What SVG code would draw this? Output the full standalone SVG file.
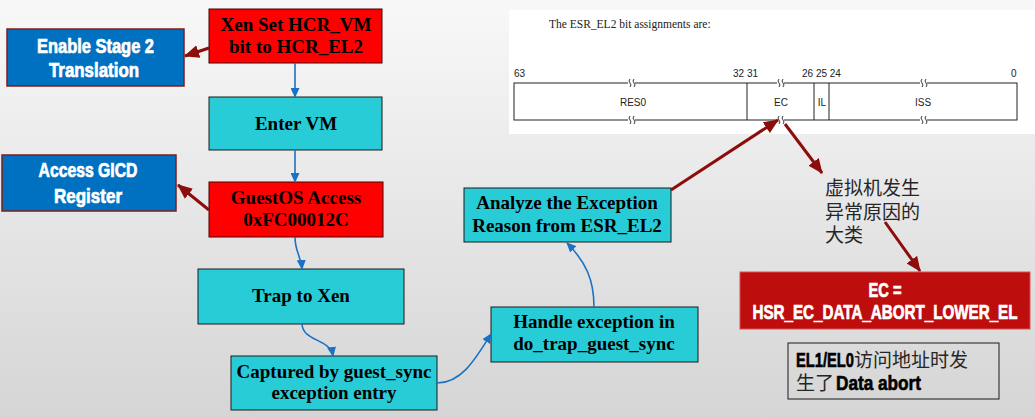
<svg xmlns="http://www.w3.org/2000/svg" width="1035" height="418" viewBox="0 0 1035 418">
<defs>
<linearGradient id="bg" x1="0" y1="0" x2="0" y2="1">
<stop offset="0" stop-color="#f8f8f8"/>
<stop offset="1" stop-color="#d5d5d5"/>
</linearGradient>
<marker id="ab" markerUnits="userSpaceOnUse" markerWidth="10" markerHeight="9" refX="9" refY="4.5" orient="auto">
<path d="M0,0 L10,4.5 L0,9 z" fill="#1b72c4"/>
</marker>
<marker id="ar" markerUnits="userSpaceOnUse" markerWidth="15" markerHeight="13" refX="14" refY="6.5" orient="auto">
<path d="M0,0 L15,6.5 L0,13 z" fill="#8d0c0c"/>
</marker>
<style>
.blue{fill:#0070c0;stroke:#7f1d1d;stroke-width:1.5}
.red{fill:#ff0000;stroke:#4a0000;stroke-width:1}
.cyan{fill:#27ccd6;stroke:#1a1a1a;stroke-width:1}
.wt{font-family:"Liberation Sans",Arial,sans-serif;font-weight:bold;font-size:20px;fill:#ffffff;stroke:#ffffff;stroke-width:0.7;text-anchor:middle}
.st{font-family:"Liberation Serif","Times New Roman",serif;font-weight:bold;font-size:19px;fill:#000;text-anchor:middle}
.bt{font-family:"Liberation Sans",Arial,sans-serif;font-weight:bold;font-size:20px;fill:#000;stroke:#000;stroke-width:0.6}
.bl{fill:none;stroke:#1b72c4;stroke-width:1.6}
.rl{fill:none;stroke:#8d0c0c;stroke-width:3}
.reg{font-family:"Liberation Sans",Arial,sans-serif;font-size:10px;fill:#222}
.cn{font-family:"Noto Sans CJK SC",sans-serif;font-size:19px;fill:#262626}
</style>
</defs>
<rect width="1035" height="418" fill="url(#bg)"/>

<g id="esr">
<rect x="509" y="10" width="526" height="124" fill="#ffffff"/>
<text x="549" y="28" font-family="Liberation Serif,serif" font-size="11.5" fill="#222">The ESR_EL2 bit assignments are:</text>
<rect x="514" y="83" width="503" height="37" fill="#fff" stroke="#222" stroke-width="1"/>
<line x1="747" y1="83" x2="747" y2="120" stroke="#222"/>
<line x1="814" y1="83" x2="814" y2="120" stroke="#222"/>
<line x1="829" y1="83" x2="829" y2="120" stroke="#222"/>
<g class="reg">
<text x="514" y="77">63</text>
<text x="733" y="77">32 31</text>
<text x="802" y="77">26 25 24</text>
<text x="1011" y="77">0</text>
<text x="633" y="106" text-anchor="middle">RES0</text>
<text x="781" y="106" text-anchor="middle">EC</text>
<text x="822" y="106" text-anchor="middle">IL</text>
<text x="923" y="106" text-anchor="middle">ISS</text>
</g>
<g fill="none" stroke="#222" stroke-width="0.9">
<rect x="628" y="80" width="7" height="7" fill="#fff" stroke="none"/>
<path d="M630,79 q-2,2 0,4 q2,2 0,4 M634,79 q-2,2 0,4 q2,2 0,4"/>
<rect x="628" y="116" width="7" height="7" fill="#fff" stroke="none"/>
<path d="M630,116 q-2,2 0,4 q2,2 0,4 M634,116 q-2,2 0,4 q2,2 0,4"/>
<rect x="777" y="80" width="7" height="7" fill="#fff" stroke="none"/>
<path d="M779,79 q-2,2 0,4 q2,2 0,4 M783,79 q-2,2 0,4 q2,2 0,4"/>
<rect x="777" y="116" width="7" height="7" fill="#fff" stroke="none"/>
<path d="M779,116 q-2,2 0,4 q2,2 0,4 M783,116 q-2,2 0,4 q2,2 0,4"/>
<rect x="920" y="80" width="7" height="7" fill="#fff" stroke="none"/>
<path d="M922,79 q-2,2 0,4 q2,2 0,4 M926,79 q-2,2 0,4 q2,2 0,4"/>
<rect x="920" y="116" width="7" height="7" fill="#fff" stroke="none"/>
<path d="M922,116 q-2,2 0,4 q2,2 0,4 M926,116 q-2,2 0,4 q2,2 0,4"/>
</g>
</g>

<g id="enable-stage2">
<rect class="blue" x="7" y="29" width="177" height="57"/>
<text class="wt" x="95.5" y="53" textLength="117" lengthAdjust="spacingAndGlyphs">Enable Stage 2</text>
<text class="wt" x="94" y="77" textLength="90" lengthAdjust="spacingAndGlyphs">Translation</text>
</g>

<g id="xen-set">
<rect class="red" x="209" y="9" width="173" height="54"/>
<text class="st" x="296" y="31">Xen Set HCR_VM</text>
<text class="st" x="296" y="53">bit to HCR_EL2</text>
</g>

<g id="enter-vm">
<rect class="cyan" x="209" y="97" width="173" height="53"/>
<text class="st" x="296" y="130">Enter VM</text>
</g>

<g id="access-gicd">
<rect class="blue" x="2" y="155" width="174" height="56"/>
<text class="wt" x="88" y="177" textLength="99" lengthAdjust="spacingAndGlyphs">Access GICD</text>
<text class="wt" x="88" y="203" textLength="68" lengthAdjust="spacingAndGlyphs">Register</text>
</g>

<g id="guestos-access">
<rect class="red" x="209" y="182" width="174" height="55"/>
<text class="st" x="296" y="204">GuestOS Access</text>
<text class="st" x="296" y="226">0xFC00012C</text>
</g>

<g id="trap-to-xen">
<rect class="cyan" x="198" y="269" width="206" height="55"/>
<text class="st" x="301" y="302">Trap to Xen</text>
</g>

<g id="captured">
<rect class="cyan" x="231" y="356" width="206" height="54"/>
<text class="st" x="334" y="378">Captured by guest_sync</text>
<text class="st" x="334" y="399">exception entry</text>
</g>

<g id="handle-exception">
<rect class="cyan" x="491" y="307" width="207" height="55"/>
<text class="st" x="594" y="328">Handle exception in</text>
<text class="st" x="594" y="350">do_trap_guest_sync</text>
</g>

<g id="analyze">
<rect class="cyan" x="464" y="188" width="207" height="54"/>
<text class="st" x="567" y="209">Analyze the Exception</text>
<text class="st" x="567" y="232">Reason from ESR_EL2</text>
</g>

<g id="ec-category">
<text class="cn" x="825" y="195">虚拟机发生</text>
<text class="cn" x="825" y="219">异常原因的</text>
<text class="cn" x="825" y="242">大类</text>
</g>

<g id="ec-value">
<rect x="740" y="272" width="290" height="57" fill="#bd0d0d" stroke="#d85050" stroke-width="1"/>
<text class="wt" x="885" y="297" textLength="33" lengthAdjust="spacingAndGlyphs">EC =</text>
<text class="wt" x="885" y="319" textLength="265" lengthAdjust="spacingAndGlyphs">HSR_EC_DATA_ABORT_LOWER_EL</text>
</g>

<g id="data-abort-note">
<rect x="788" y="343" width="211" height="56" fill="none" stroke="#1a1a1a" stroke-width="1"/>
<text class="bt" x="796" y="367" textLength="58" lengthAdjust="spacingAndGlyphs">EL1/EL0</text>
<text class="cn" x="854" y="367">访问地址时发</text>
<text class="cn" x="796" y="390">生了</text>
<text class="bt" x="836" y="390" textLength="85" lengthAdjust="spacingAndGlyphs">Data abort</text>
</g>

<g id="connectors">
<path class="rl" d="M209,48 L185,56" marker-end="url(#ar)"/>
<path class="bl" d="M295,63 L295,97" marker-end="url(#ab)"/>
<path class="bl" d="M295,150 L295,182" marker-end="url(#ab)"/>
<path class="rl" d="M209,210 L178,185" marker-end="url(#ar)"/>
<path class="bl" d="M295,237 C295,252 301,256 302,269" marker-end="url(#ab)"/>
<path class="bl" d="M302,324 C303,342 330,338 333,356" marker-end="url(#ab)"/>
<path class="bl" d="M437,383 C462,383 476,358 491,334" marker-end="url(#ab)"/>
<path class="bl" d="M594,307 C594,280 586,262 567,243" marker-end="url(#ab)"/>
<path class="rl" d="M671,190 L778,120" marker-end="url(#ar)"/>
<path class="rl" d="M785,124 L822,173" marker-end="url(#ar)"/>
<path class="rl" d="M885,222 L920,271" marker-end="url(#ar)"/>
</g>
</svg>
